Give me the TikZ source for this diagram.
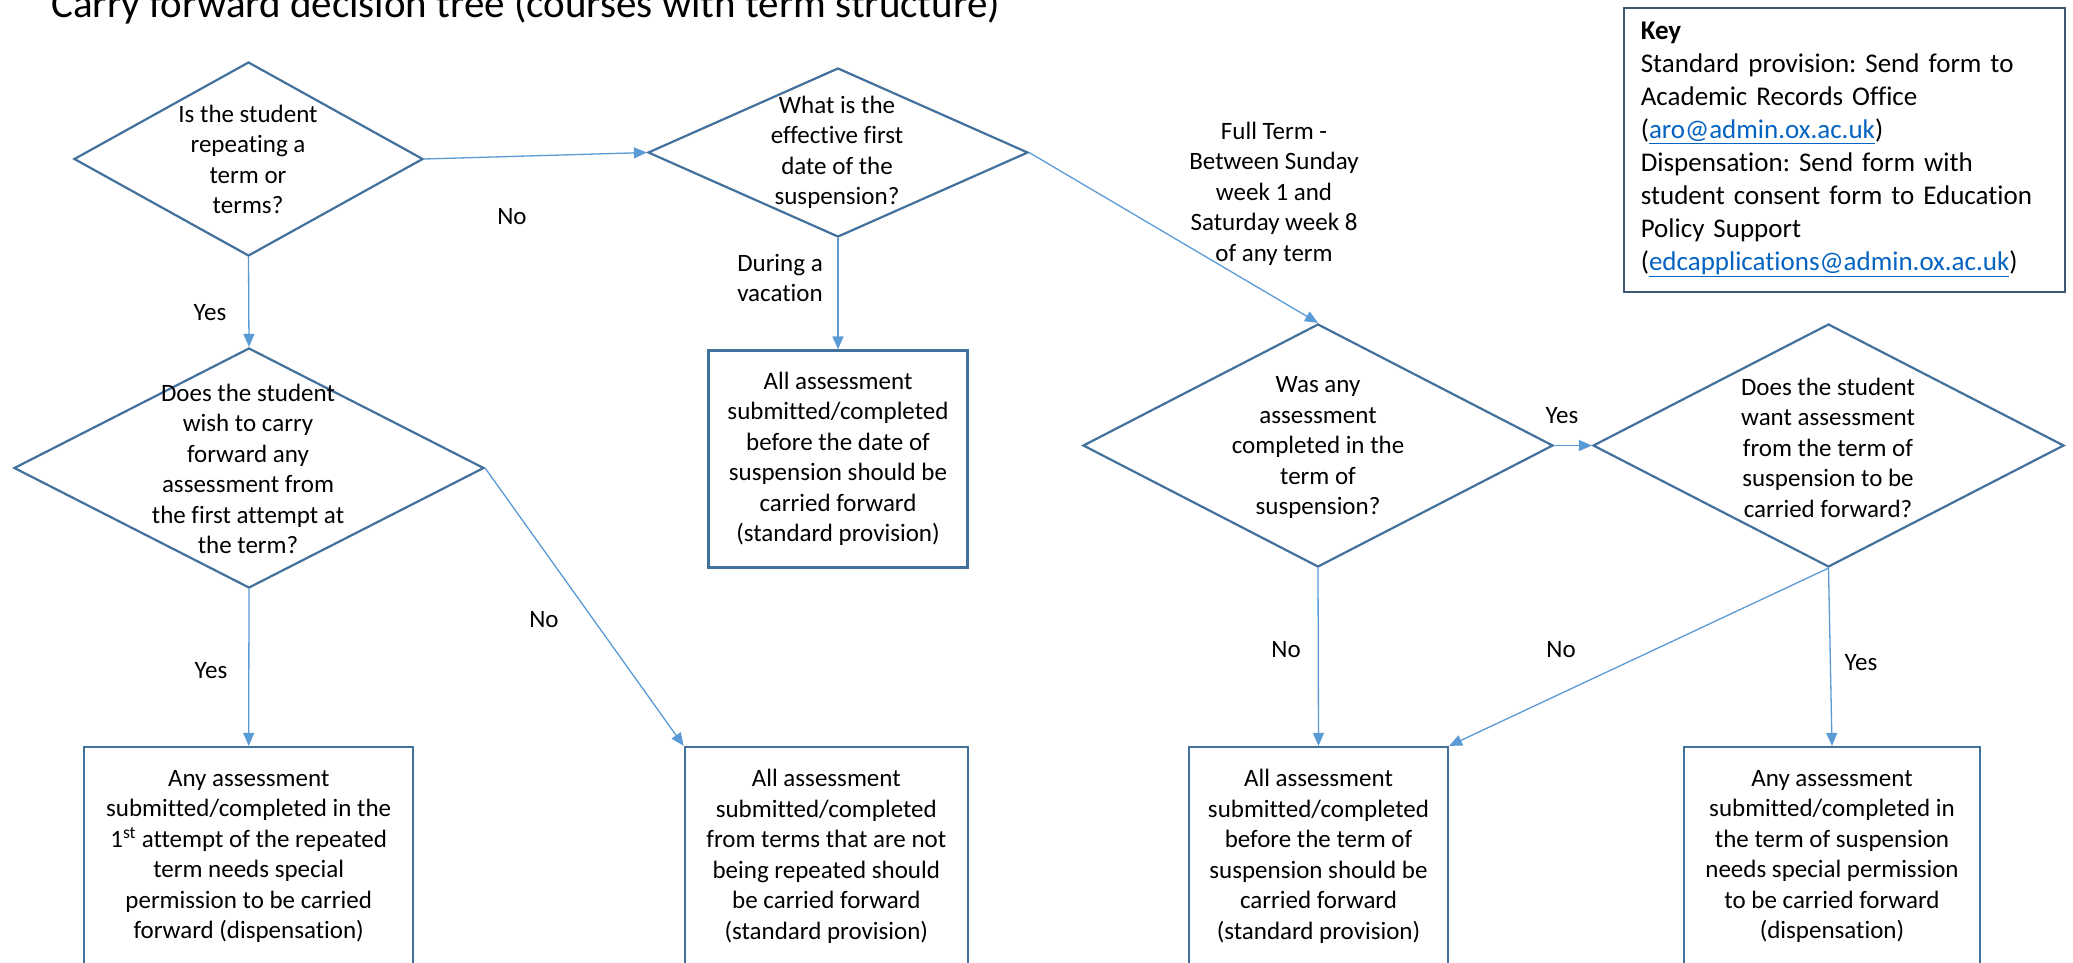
\documentclass[tikz,border=0pt]{standalone}
\usepackage{fontspec}
\setmainfont{Carlito}[Ligatures=NoCommon]
\usetikzlibrary{shapes.geometric,arrows.meta}
\definecolor{shapeblue}{HTML}{41719C}
\definecolor{connblue}{HTML}{5B9BD5}
\definecolor{urlblue}{HTML}{0563C1}
\definecolor{keyline}{HTML}{3F5875}
\frenchspacing
\begin{document}
\begin{tikzpicture}[x=1pt,y=-1pt,
  dia/.style={diamond, draw=shapeblue, line width=2.2pt, inner sep=0pt},
  txt/.style={align=center, inner sep=0pt, font=\fontsize{25}{30.5}\selectfont},
  box/.style={draw=shapeblue, line width=2.2pt, align=center, inner sep=0pt,
    minimum height=219pt, font=\fontsize{25}{30.5}\selectfont},
  conn/.style={draw=connblue, line width=1.3pt, -{Triangle[length=13pt,width=11pt]}},
  lbl/.style={inner sep=0pt, align=center, font=\fontsize{25}{30.5}\selectfont}
]
\path[use as bounding box] (0,0) rectangle (2073,962);
\clip (0,0) rectangle (2073,962);
\fill[white] (0,0) rectangle (2073,962);

% title
\node[anchor=base west, inner sep=0pt, font=\fontsize{41}{49}\selectfont] (title) at (51,17)
  {Carry forward decision tree (courses with term structure)};

% key
\node[draw=keyline, line width=1.6pt, anchor=north west, minimum width=441pt, minimum height=284pt,
  text width=407pt, inner xsep=17pt, inner ysep=0pt, align=left,
  font=\fontsize{27}{33}\selectfont] (key) at (1623,7)
  {\textbf{Key}\\
   Standard provision: Send form to\\
   Academic Records Office\\
   (\textcolor{urlblue}{\underline{aro@admin.ox.ac.uk}})\\
   Dispensation: Send form with\\
   student consent form to Education\\
   Policy Support\\
   (\textcolor{urlblue}{\underline{edcapplications@admin.ox.ac.uk}})};

% diamonds
\node[dia, minimum width=349pt, minimum height=194pt] (d1) at (248.5,159) {};
\node[txt] (d1t) at (248,159.5) {Is the student\\repeating a\\term or\\terms?};

\node[dia, minimum width=380pt, minimum height=169pt] (d2) at (838,152.5) {};
\node[txt] (d2t) at (837,152.5) {What is the\\effective first\\date of the\\suspension?};

\node[dia, minimum width=470pt, minimum height=243pt] (d3) at (1318,445.5) {};
\node[txt] (d3t) at (1318,447.5) {Was any\\assessment\\completed in the\\term of\\suspension?};

\node[dia, minimum width=470pt, minimum height=240pt] (d4) at (249,468) {};
\node[txt] (d4t) at (248,469) {Does the student\\wish to carry\\forward any\\assessment from\\the first attempt at\\the term?};

\node[dia, minimum width=471pt, minimum height=243pt] (d5) at (1828.5,445.5) {};
\node[txt] (d5t) at (1828,447.5) {Does the student\\want assessment\\from the term of\\suspension to be\\carried forward?};

% boxes
\node[box, minimum width=259pt, minimum height=217pt] (b2) at (838,459)
  {All assessment\\submitted/completed\\before the date of\\suspension should be\\carried forward\\(standard provision)};
\node[box, minimum width=329pt] (b1) at (248.7,856.5)
  {Any assessment\\submitted/completed in the\\1\textsuperscript{st} attempt of the repeated\\term needs special\\permission to be carried\\forward (dispensation)};
\node[box, minimum width=283pt] (b3) at (826.3,856.5)
  {All assessment\\submitted/completed\\from terms that are not\\being repeated should\\be carried forward\\(standard provision)};
\node[box, minimum width=259pt] (b4) at (1318.5,856.5)
  {All assessment\\submitted/completed\\before the term of\\suspension should be\\carried forward\\(standard provision)};
\node[box, minimum width=296pt] (b5) at (1832,856.5)
  {Any assessment\\submitted/completed in\\the term of suspension\\needs special permission\\to be carried forward\\(dispensation)};

% connectors
\draw[conn] (d1.east) -- (d2.west);
\draw[conn] (d1.south) -- (d4.north);
\draw[conn] (d2.south) -- (b2.north);
\draw[conn] (d2.east) -- (d3.north);
\draw[conn] (d4.south) -- (b1.north);
\draw[conn] (d4.east) -- (b3.north west);
\draw[conn] (d3.east) -- (d5.west);
\draw[conn] (d3.south) -- (b4.north);
\draw[conn] (d5.south) -- (b4.north east);
\draw[conn] (d5.south) -- (b5.north);

% labels
\node[lbl] (l1) at (512,217) {No};
\node[lbl] (l2) at (210,313) {Yes};
\node[lbl] (l3) at (780,278) {During a\\vacation};
\node[lbl] (l4) at (1274,193.5) {Full Term -\\Between Sunday\\week 1 and\\Saturday week 8\\of any term};
\node[lbl] (l5) at (544,620) {No};
\node[lbl] (l6) at (211,671) {Yes};
\node[lbl] (l7) at (1562,416) {Yes};
\node[lbl] (l8) at (1286,650) {No};
\node[lbl] (l9) at (1561,650) {No};
\node[lbl] (l10) at (1861,663) {Yes};
\end{tikzpicture}
\end{document}
